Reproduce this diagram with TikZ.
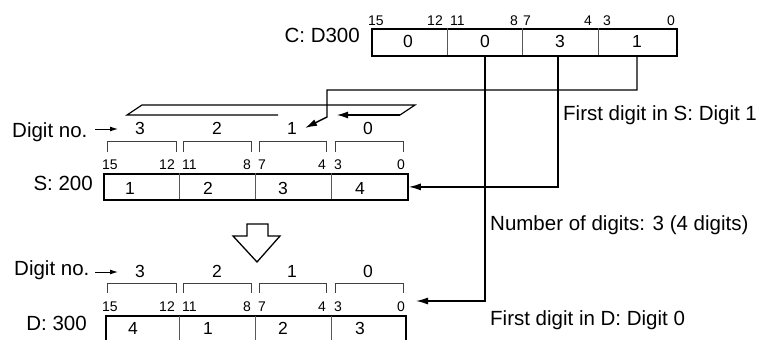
\documentclass[tikz,border=0pt]{standalone}
\usepackage{fontspec}
\setmainfont{Liberation Sans}
\usetikzlibrary{arrows.meta}
\begin{document}
\begin{tikzpicture}[x=1pt,y=-1pt,
  lbl/.style={font=\fontsize{20.5}{24}\selectfont, inner sep=0pt},
  cell/.style={font=\fontsize{17.5}{20}\selectfont, inner sep=0pt},
  bit/.style={font=\fontsize{14}{16}\selectfont, inner sep=0pt},
  frame/.style={draw, line width=1.8pt, inner sep=0pt, anchor=north west},
  divider/.style={line width=0.8pt, draw=black!65},
  bracket/.style={line width=0.9pt, draw=black!75},
  conn/.style={line width=1.4pt},
  arr/.style={conn, -{Latex[length=12pt,width=7pt]}},
  smallarr/.style={line width=1pt, -{Latex[length=8pt,width=5pt]}},
  para/.style={line width=1.2pt}
]
\useasboundingbox (0,0) rectangle (763,340);

% ---------------- C: D300 ----------------
\node[frame, minimum width=305pt, minimum height=27pt] (C) at (371,28) {};
\foreach \x in {447,522,598} \draw[divider] (\x,28) -- (\x,55);
\node[lbl, anchor=base east] (Clbl) at (360,42) {C: D300};
\node[cell] (c0) at (408,41) {0};
\node[cell] (c1) at (485,41) {0};
\node[cell] (c2) at (560,41) {3};
\node[cell] (c3) at (637,41) {1};
\node[bit, anchor=west] (cb15) at (368,21) {15};
\node[bit, anchor=east] (cb12) at (443,21) {12};
\node[bit, anchor=west] (cb11) at (450,21) {11};
\node[bit, anchor=east] (cb8)  at (518,21) {8};
\node[bit, anchor=west] (cb7)  at (523,21) {7};
\node[bit, anchor=east] (cb4)  at (592,21) {4};
\node[bit, anchor=west] (cb3)  at (603,21) {3};
\node[bit, anchor=east] (cb0)  at (675,21) {0};

% ---------------- S: 200 ----------------
\node[lbl, anchor=base west] (dn1) at (12,137) {Digit no.};
\coordinate (dn1a) at (95,129);
\coordinate (dn1b) at (118,129);
\draw[smallarr] (dn1a) -- (dn1b);
\node[cell] (s3) at (140,128) {3};
\node[cell] (s2) at (217,128) {2};
\node[cell] (s1) at (292,128) {1};
\node[cell] (s0) at (368,128) {0};
\foreach \a/\b in {107/176,183/251,259/326,335/403}
  \draw[bracket] (\a,152) -- (\a,141) -- (\b,141) -- (\b,152);
\node[bit, anchor=west] (sb15) at (102,165) {15};
\node[bit, anchor=east] (sb12) at (175,165) {12};
\node[bit, anchor=west] (sb11) at (182,165) {11};
\node[bit, anchor=east] (sb8)  at (251,165) {8};
\node[bit, anchor=west] (sb7)  at (258,165) {7};
\node[bit, anchor=east] (sb4)  at (326,165) {4};
\node[bit, anchor=west] (sb3)  at (334,165) {3};
\node[bit, anchor=east] (sb0)  at (405,165) {0};
\node[frame, minimum width=304pt, minimum height=26pt] (S) at (103,173) {};
\foreach \x in {179,255,331} \draw[divider] (\x,173) -- (\x,199);
\node[lbl, anchor=base east] (Slbl) at (93,190) {S: 200};
\node[cell] (sv1) at (130,188) {1};
\node[cell] (sv2) at (208,188) {2};
\node[cell] (sv3) at (283,188) {3};
\node[cell] (sv4) at (360,188) {4};

% rotation parallelogram
\coordinate (pA) at (278,115);
\coordinate (pB) at (127,115);
\coordinate (pC) at (142,105);
\coordinate (pD) at (415,105);
\coordinate (pE) at (400,115);
\coordinate (pF) at (337,115);
\draw[para] (pA) -- (pB) -- (pC) -- (pD) -- (pE);
\draw[para, -{Latex[length=11pt,width=7pt]}] (pE) -- (pF);

% ---------------- hollow arrow ----------------
\draw[line width=1.3pt, fill=white] (247,224) -- (268,224) -- (268,236) -- (280,236)
  -- (257,262) -- (233,236) -- (247,236) -- cycle;

% ---------------- D: 300 ----------------
\node[lbl, anchor=base west] (dn2) at (14,275) {Digit no.};
\coordinate (dn2a) at (95,272);
\coordinate (dn2b) at (118,272);
\draw[smallarr] (dn2a) -- (dn2b);
\node[cell] (d3) at (140,271) {3};
\node[cell] (d2) at (217,271) {2};
\node[cell] (d1) at (292,271) {1};
\node[cell] (d0) at (368,271) {0};
\foreach \a/\b in {107/176,183/251,259/326,335/403}
  \draw[bracket] (\a,293) -- (\a,283) -- (\b,283) -- (\b,293);
\node[bit, anchor=west] (db15) at (102,307) {15};
\node[bit, anchor=east] (db12) at (175,307) {12};
\node[bit, anchor=west] (db11) at (182,307) {11};
\node[bit, anchor=east] (db8)  at (251,307) {8};
\node[bit, anchor=west] (db7)  at (258,307) {7};
\node[bit, anchor=east] (db4)  at (326,307) {4};
\node[bit, anchor=west] (db3)  at (334,307) {3};
\node[bit, anchor=east] (db0)  at (405,307) {0};
\draw[line width=1.8pt] (106,342) -- (106,316) -- (406,316) -- (406,342);
\foreach \x in {179,255,331} \draw[divider] (\x,316) -- (\x,342);
\node[lbl, anchor=base east] (Dlbl) at (87,330) {D: 300};
\node[cell] (dv4) at (133,328) {4};
\node[cell] (dv1) at (208,328) {1};
\node[cell] (dv2) at (283,328) {2};
\node[cell] (dv3) at (360,328) {3};

% ---------------- connectors ----------------
\coordinate (k1) at (637,55);
\coordinate (k1b) at (327,90);
\coordinate (k1c) at (327,117);
\coordinate (k1tip) at (305,128);
\draw[arr] (k1) |- (k1b) -- (k1c) -- (k1tip);

\coordinate (k2) at (558,55);
\draw[arr] (k2) |- (S.east);

\coordinate (k3) at (485,55);
\coordinate (k3tip) at (416,301);
\draw[arr] (k3) |- (k3tip);

\node[lbl, anchor=base west] (t1) at (563,120) {First digit in S: Digit 1};
\node[lbl, anchor=base west] (t2) at (490,230) {Number of digits: 3 (4 digits)};
\node[lbl, anchor=base west] (t3) at (490,325) {First digit in D: Digit 0};
\end{tikzpicture}
\end{document}
